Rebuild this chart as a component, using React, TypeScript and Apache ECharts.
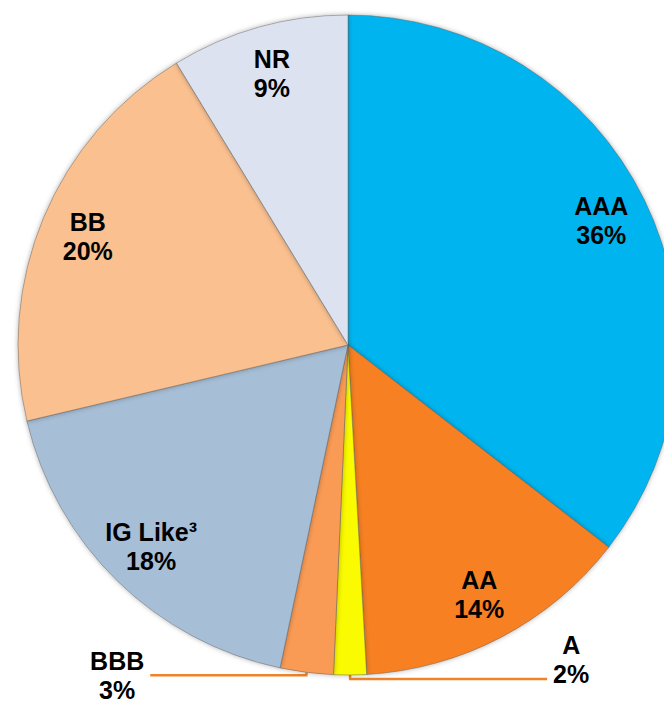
import React, { useEffect, useRef } from "react";
import * as echarts from "echarts";

const categories = ["AAA", "AA", "A", "BBB", "IG Like³", "BB", "NR"];
const shares = [35.5, 13.6, 1.6, 2.6, 18.0, 20.0, 8.7];
const colors = ["#00B5EF", "#F78121", "#FAFA00", "#FA9B55", "#A6BED6", "#FAC08F", "#DCE2F0"];
const outsideLabels = ["A", "BBB"];

export default function App() {
  const ref = useRef<HTMLDivElement>(null);
  useEffect(() => {
    if (!ref.current) return;
    const chart = echarts.init(ref.current, undefined, { renderer: "svg" });
    const font = {
      fontFamily: "Liberation Sans, Arial, sans-serif",
      fontWeight: "bold" as const,
      fontSize: 25,
      lineHeight: 29,
      color: "#000",
    };
    const pctText = (p: any) => `{t|${p.name}}\n{t|${Math.round(p.value)}%}`;
    const mainData = categories.map((name, i) => {
      const isOut = outsideLabels.includes(name);
      const item: any = {
        name,
        value: shares[i],
        itemStyle: { color: colors[i] },
        label: { show: isOut },
        labelLine: { show: isOut },
      };
      if (name === "A") {
        item.label = { show: true, padding: [0, 0, 38, 0] };
        item.labelLine = { show: true, length: 4, length2: 197 };
      }
      if (name === "BBB") {
        item.label = { show: true, padding: [0, 0, 0, 0] };
        item.labelLine = { show: true, length: 3, length2: 156 };
      }
      return item;
    });
    const labelData = categories.map((name, i) => ({
      name,
      value: shares[i],
      label: { show: !outsideLabels.includes(name) },
    }));
    chart.setOption({
      animation: false,
      backgroundColor: "#fff",
      series: [
        {
          type: "pie",
          center: [348, 345],
          radius: [0, 330],
          startAngle: 90,
          clockwise: true,
          avoidLabelOverlap: false,
          data: mainData,
          itemStyle: {
            borderColor: "rgba(90,90,90,0.45)",
            borderWidth: 1,
            shadowBlur: 5,
            shadowColor: "rgba(0,0,0,0.3)",
          },
          label: {
            position: "outside",
            formatter: pctText,
            distanceToLabelLine: 6,
            rich: { t: { ...font, align: "center" } },
          },
          labelLine: {
            lineStyle: { color: "#F08228", width: 2.5 },
          },
          emphasis: { disabled: true },
        },
        {
          type: "pie",
          center: [348, 345],
          radius: [228, 330],
          startAngle: 90,
          clockwise: true,
          silent: true,
          avoidLabelOverlap: false,
          data: labelData,
          itemStyle: { color: "rgba(0,0,0,0)", borderWidth: 0 },
          label: {
            position: "inside",
            formatter: pctText,
            rich: { t: { ...font, align: "center" } },
          },
          labelLine: { show: false },
          emphasis: { disabled: true },
        },
      ],
    });
    return () => chart.dispose();
  }, []);
  return (
    <div
      ref={ref}
      style={{ position: "absolute", left: 0, top: 0, width: 664, height: 704 }}
    />
  );
}
